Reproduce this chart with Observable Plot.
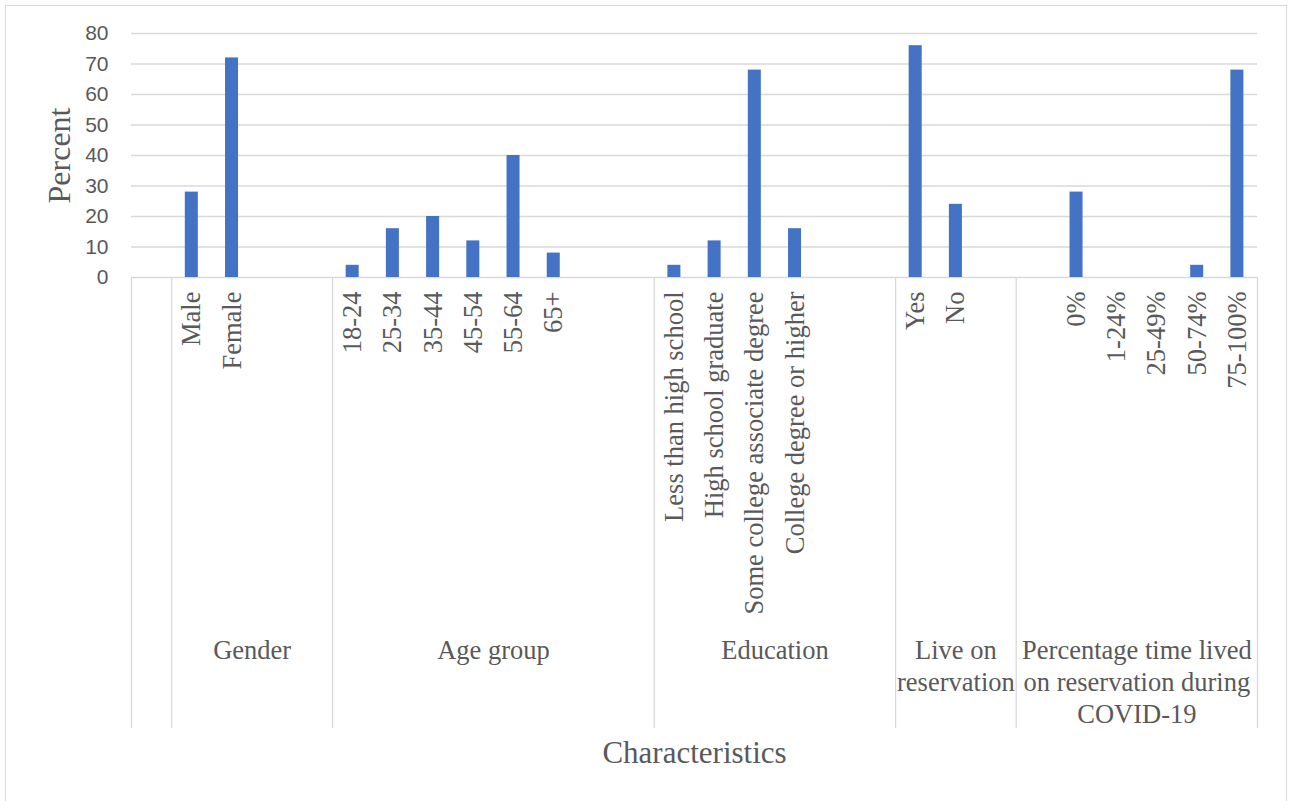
<!DOCTYPE html>
<html><head><meta charset="utf-8">
<script src="https://cdn.jsdelivr.net/npm/d3@7"></script>
<script src="https://cdn.jsdelivr.net/npm/@observablehq/plot@0.6"></script>
<style>
html,body{margin:0;padding:0;background:#fff;overflow:hidden;}
#wrap{position:relative;width:1295px;height:801px;}
#border{position:absolute;left:5px;top:5px;width:1282px;height:800px;border:1.3px solid #d9d9d9;box-sizing:border-box;}
#chart{position:absolute;left:0;top:0;}
</style></head><body>
<div id="wrap"><div id="border"></div><div id="chart"></div></div>
<script>
// ---- data (blank categories mirror the empty rows of the source sheet) ----
const groupNames = ["", "Gender", "Age group", "Education", "Live on\nreservation", "Percentage time lived\non reservation during\nCOVID-19"];
const leadCats = [""];
const leadVals = [null];
const genderCats = ["Male", "Female", "", ""];
const genderVals = [28, 72, null, null];
const ageCats = ["18-24", "25-34", "35-44", "45-54", "55-64", "65+", "", ""];
const ageVals = [4, 16, 20, 12, 40, 8, null, null];
const eduCats = ["Less than high school", "High school graduate", "Some college associate degree", "College degree or higher", "", ""];
const eduVals = [4, 12, 68, 16, null, null];
const liveCats = ["Yes", "No", ""];
const liveVals = [76, 24, null];
const pctCats = ["", "0%", "1-24%", "25-49%", "50-74%", "75-100%"];
const pctVals = [null, 28, 0, 0, 4, 68];
const yTicks = [0, 10, 20, 30, 40, 50, 60, 70, 80];
const yLabel = "Percent";
const xLabel = "Characteristics";

// ---- build tables ----
const groupCats = [leadCats, genderCats, ageCats, eduCats, liveCats, pctCats];
const groupVals = [leadVals, genderVals, ageVals, eduVals, liveVals, pctVals];
const rows = [];
const groups = [];
let k = 0;
groupCats.forEach((cats, g) => {
  groups.push({name: groupNames[g], start: k, n: cats.length});
  cats.forEach((c, j) => { rows.push({i: k, cat: c, value: groupVals[g][j]}); k++; });
});
const bounds = groups.map(d => d.start).concat([k]);

const serif = "'Liberation Serif', 'Times New Roman', serif";
const sans = "'Liberation Sans', Arial, sans-serif";
const grey = "#595959";

const plot = Plot.plot({
  width: 1295, height: 801,
  marginLeft: 131, marginRight: 38, marginTop: 33, marginBottom: 524,
  style: {background: "transparent", overflow: "visible"},
  x: {type: "linear", domain: [0, k], axis: null},
  y: {domain: [0, 80], axis: null},
  marks: [
    Plot.gridY(yTicks, {stroke: "#d9d9d9", strokeOpacity: 1, strokeWidth: 1.3}),
    Plot.axisY(yTicks, {tickSize: 0, tickPadding: 23, fontSize: 21, fontFamily: sans, color: grey, label: null}),
    Plot.ruleX(bounds, {x: d => d, stroke: "#d9d9d9", strokeWidth: 1.3, insetTop: 244, insetBottom: -451}),
    Plot.rectY(rows.filter(d => d.value != null), {x1: "i", x2: d => d.i + 1, y: "value", fill: "#4472C4", insetLeft: 13.6, insetRight: 13.6}),
    Plot.text(rows.filter(d => d.cat), {x: d => d.i + 0.5, text: "cat", frameAnchor: "bottom", rotate: -90, textAnchor: "end", lineAnchor: "middle", dy: 14, fontSize: 26.5, fontFamily: serif, fill: grey}),
    Plot.text(groups.filter(d => d.name), {x: d => d.start + d.n / 2, text: "name", frameAnchor: "bottom", dy: 359, textAnchor: "middle", lineAnchor: "top", lineHeight: 1.21, fontSize: 26.5, fontFamily: serif, fill: grey}),
    Plot.text([xLabel], {frameAnchor: "bottom", dy: 485, textAnchor: "middle", lineAnchor: "bottom", fontSize: 31, fontFamily: serif, fill: grey}),
    Plot.text([yLabel], {frameAnchor: "left", dx: -62, rotate: -90, textAnchor: "middle", lineAnchor: "bottom", fontSize: 32, fontFamily: serif, fill: grey})
  ]
});
document.getElementById("chart").appendChild(plot);
</script>
</body></html>
